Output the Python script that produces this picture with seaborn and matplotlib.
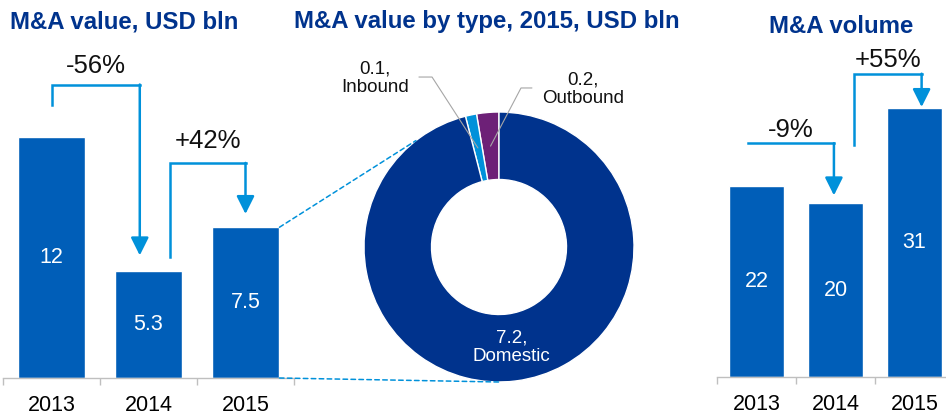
import numpy as np
import matplotlib
matplotlib.use("Agg")
import matplotlib.pyplot as plt
from matplotlib.patches import ConnectionPatch
import seaborn as sns

# ---------------------------------------------------------------- data
years = ["2013", "2014", "2015"]
value_bln = [12, 5.3, 7.5]
volume = [22, 20, 31]
type_names = ["Outbound", "Inbound", "Domestic"]
type_values = [0.2, 0.1, 7.2]

# ---------------------------------------------------------------- style
BAR = "#005EB8"
NAVY = "#00338D"
LIGHT = "#0091DA"
PURPLE = "#6D2077"
GREY = "#BFBFBF"

sns.set_theme(style="white")
plt.rcParams["font.family"] = ["Liberation Sans", "DejaVu Sans"]

W, H = 946, 411
fig = plt.figure(figsize=(W / 100, H / 100), dpi=100)


def px_axes(x, top, w, h):
    return fig.add_axes([x / W, 1 - (top + h) / H, w / W, h / H])


# bracket arrow layout: offsets from bar index / value
left_arrows = [dict(dx0=0.0, dy0=1.6, dtop=2.6, dx1=-0.09, dy1=0.8, gap=8.6),
               dict(dx0=0.22, dy0=0.7, dtop=3.2, dx1=0.0, dy1=0.66, gap=10.8)]
right_arrows = [dict(dx0=-0.11, dy0=None, dtop=4.9, dx1=-0.02, dy1=0.9, gap=4.3),
                dict(dx0=0.23, dy0=6.7, dtop=3.9, dx1=0.09, dy1=0.07, gap=5.0)]


def bracket(ax, vals, i, a):
    x0, x1 = i + a["dx0"], i + 1 + a["dx1"]
    top = max(vals[i], vals[i + 1]) + a["dtop"]
    y0 = top if a["dy0"] is None else vals[i] + a["dy0"]
    y1 = vals[i + 1] + a["dy1"]
    ax.plot([x0, x0, x1], [y0, top, top], color=LIGHT, lw=1.8,
            solid_joinstyle="miter", solid_capstyle="projecting", clip_on=False)
    ax.annotate("", xy=(x1, y1), xytext=(x1, top), annotation_clip=False,
                arrowprops=dict(arrowstyle="-|>,head_length=0.6,head_width=0.3",
                                mutation_scale=18, color=LIGHT, lw=1.8,
                                shrinkA=0, shrinkB=0))
    label = f"{(vals[i + 1] / vals[i] - 1) * 100:+.0f}%"
    ax.annotate(label, xy=((x0 + x1) / 2, top), xytext=(0, a["gap"]),
                textcoords="offset points", ha="center", va="baseline",
                fontsize=18.5, color="#111111", annotation_clip=False)


def bar_panel(ax, vals, ymax, arrows):
    sns.barplot(x=years, y=vals, ax=ax, color=BAR, saturation=1, width=0.7)
    ax.bar_label(ax.containers[0], fmt="%g", label_type="center",
                 color="white", fontsize=15.5)
    ax.set_xlim(-0.5, 2.5)
    ax.set_ylim(0, ymax)
    sns.despine(ax=ax, left=True)
    ax.spines["bottom"].set_color(GREY)
    ax.spines["bottom"].set_linewidth(1)
    ax.set_yticks([])
    ax.set_xticks([-0.5, 0.5, 1.5, 2.5], minor=True)
    ax.tick_params(axis="x", which="major", bottom=False, pad=6.5,
                   labelsize=15.5, labelcolor="black")
    ax.tick_params(axis="x", which="minor", bottom=True, length=5,
                   color=GREY, direction="out")
    ax.set_xlabel("")
    ax.set_ylabel("")
    ax.patch.set_alpha(0)
    for i, a in enumerate(arrows):
        bracket(ax, vals, i, a)


# ---------------------------------------------------------------- panels
axL = px_axes(3, 40, 291, 338)
bar_panel(axL, value_bln, 338 / 20.1, left_arrows)

axR = px_axes(717, 40, 237, 337)
bar_panel(axR, volume, 337 / 8.69, right_arrows)

pax = px_axes(364, 112, 270, 270)
wedges, _ = pax.pie(type_values, startangle=90, counterclock=True,
                    colors=[PURPLE, LIGHT, NAVY], radius=1,
                    wedgeprops=dict(width=0.5, edgecolor="white", linewidth=1))
pax.set_xlim(-1, 1)
pax.set_ylim(-1, 1)
pax.set_aspect("equal")
pax.axis("off")

# label layout: elbow, end of leader, text anchor, alignment
pie_layout = [((0.163, 1.178), (0.244, 1.178), (0.32, 1.17), "left"),
              ((-0.496, 1.259), (-0.593, 1.259), (-0.667, 1.25), "right"),
              None]
for w, name, v, lay in zip(wedges, type_names, type_values, pie_layout):
    th = np.deg2rad((w.theta1 + w.theta2) / 2)
    mx, my = 0.75 * np.cos(th), 0.75 * np.sin(th)
    label = f"{v:g},\n{name}"
    if lay is None:
        pax.text(mx, my, label, ha="center", va="center", color="white",
                 fontsize=13.5, linespacing=1.15)
        continue
    elbow, end, txt, ha = lay
    pax.plot([mx, elbow[0], end[0]], [my, elbow[1], end[1]],
             color="#A6A6A6", lw=0.8, clip_on=False)
    pax.text(txt[0], txt[1], label, ha=ha, va="center", multialignment="center",
             fontsize=13.5, color="#111111", linespacing=1.15)

# dashed zoom lines from the 2015 bar to the donut
ang = np.deg2rad(128)
for a_pt, b_pt in [((2.35, value_bln[2]), (np.cos(ang), np.sin(ang))),
                   ((2.35, 0), (0, -1))]:
    con = ConnectionPatch(xyA=a_pt, coordsA=axL.transData,
                          xyB=b_pt, coordsB=pax.transData,
                          color=LIGHT, lw=1.1, linestyle=(0, (3, 2.2)))
    fig.add_artist(con)

# ---------------------------------------------------------------- titles
tkw = dict(fontsize=17.3, fontweight="bold", color=NAVY, va="baseline")
fig.text(10 / W, 1 - 29 / H, "M&A value, USD bln", ha="left", **tkw)
fig.text(487 / W, 1 - 28 / H, "M&A value by type, 2015, USD bln", ha="center", **tkw)
fig.text(841 / W, 1 - 33 / H, "M&A volume", ha="center", **tkw)

fig.savefig("out.png", dpi=100)
